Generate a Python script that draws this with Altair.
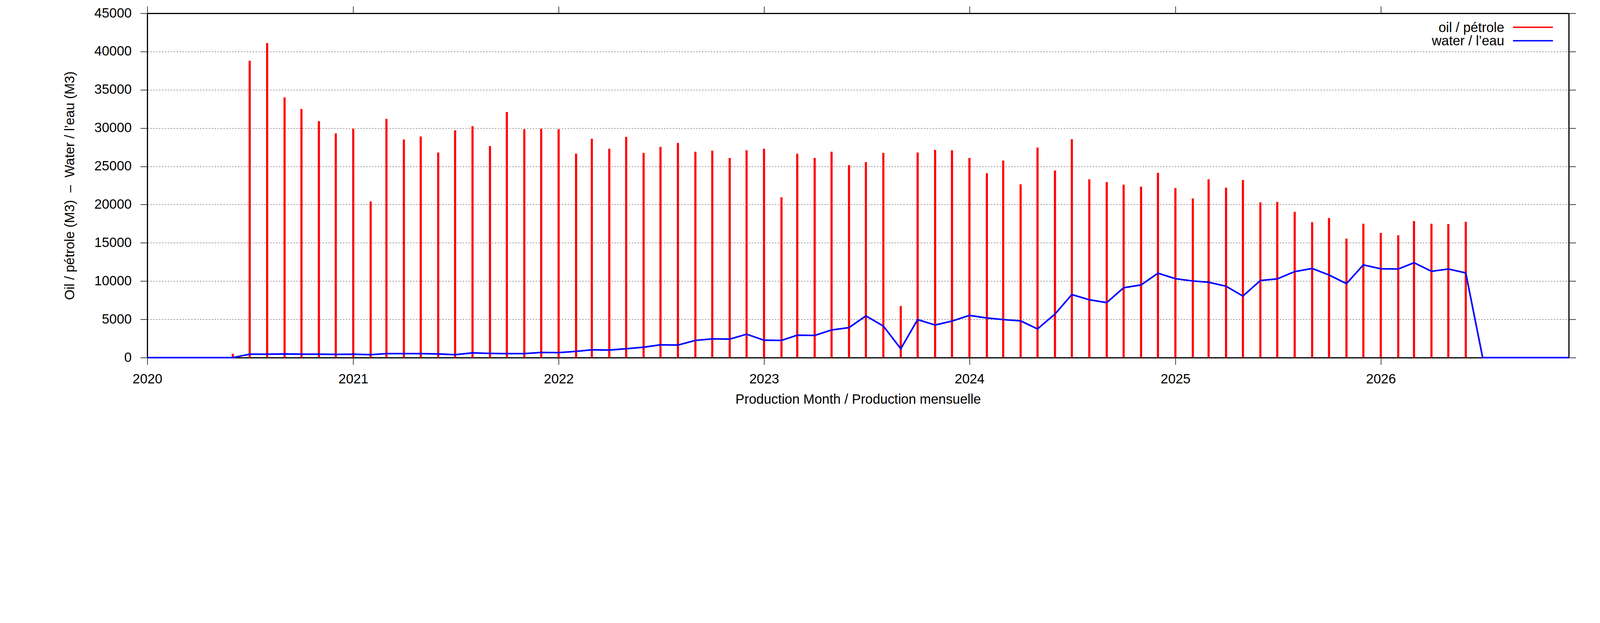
import altair as alt
import pandas as pd

# ---------------- data ----------------
months = [
    "2020-01-01", "2020-02-01", "2020-03-01", "2020-04-01", "2020-05-01", "2020-06-01",
    "2020-07-01", "2020-08-01", "2020-09-01", "2020-10-01", "2020-11-01", "2020-12-01",
    "2021-01-01", "2021-02-01", "2021-03-01", "2021-04-01", "2021-05-01", "2021-06-01",
    "2021-07-01", "2021-08-01", "2021-09-01", "2021-10-01", "2021-11-01", "2021-12-01",
    "2022-01-01", "2022-02-01", "2022-03-01", "2022-04-01", "2022-05-01", "2022-06-01",
    "2022-07-01", "2022-08-01", "2022-09-01", "2022-10-01", "2022-11-01", "2022-12-01",
    "2023-01-01", "2023-02-01", "2023-03-01", "2023-04-01", "2023-05-01", "2023-06-01",
    "2023-07-01", "2023-08-01", "2023-09-01", "2023-10-01", "2023-11-01", "2023-12-01",
    "2024-01-01", "2024-02-01", "2024-03-01", "2024-04-01", "2024-05-01", "2024-06-01",
    "2024-07-01", "2024-08-01", "2024-09-01", "2024-10-01", "2024-11-01", "2024-12-01",
    "2025-01-01", "2025-02-01", "2025-03-01", "2025-04-01", "2025-05-01", "2025-06-01",
    "2025-07-01", "2025-08-01", "2025-09-01", "2025-10-01", "2025-11-01", "2025-12-01",
    "2026-01-01", "2026-02-01", "2026-03-01", "2026-04-01", "2026-05-01", "2026-06-01",
    "2026-07-01", "2026-08-01", "2026-09-01", "2026-10-01", "2026-11-01", "2026-12-01",
]

oil = [
    None, None, None, None, None, 500, 38800, 41100, 34000, 32500, 30900, 29300,
    29900, 20400, 31200, 28500, 28900, 26800, 29700, 30250, 27650, 32100, 29850, 29900,
    29850, 26650, 28600, 27300, 28850, 26750, 27550, 28050, 26900, 27050, 26100, 27100,
    27300, 20950, 26650, 26100, 26900, 25150, 25550, 26750, 6750, 26800, 27150, 27100,
    26100, 24100, 25750, 22650, 27450, 24450, 28550, 23300, 22950, 22600, 22350, 24150,
    22150, 20800, 23300, 22200, 23200, 20300, 20350, 19050, 17700, 18250, 15550, 17500,
    16300, 16000, 17850, 17500, 17450, 17750, None, None, None, None, None, None,
]

water = [
    0, 0, 0, 0, 0, 0, 450, 450, 480, 450, 450, 420,
    450, 380, 520, 520, 520, 480, 380, 620, 550, 520, 520, 680,
    650, 820, 1020, 990, 1160, 1360, 1670, 1640, 2250, 2450, 2420, 3060,
    2280, 2250, 2930, 2900, 3610, 3920, 5450, 4120, 1160, 4970, 4260, 4770,
    5520, 5180, 4970, 4800, 3750, 5690, 8240, 7560, 7190, 9130, 9500, 11030,
    10320, 10010, 9850, 9330, 8040, 10080, 10290, 11240, 11650, 10800, 9670, 12120,
    11610, 11580, 12400, 11280, 11580, 11070, 0, 0, 0, 0, 0, 0,
]

series_labels = ["oil / pétrole", "water / l\u2019eau"]
series_colors = ["#ff0000", "#0000ff"]
year_labels = [2020, 2021, 2022, 2023, 2024, 2025, 2026]
y_ticks = [0, 5000, 10000, 15000, 20000, 25000, 30000, 35000, 40000, 45000]
x_title = "Production Month / Production mensuelle"
y_title = "Oil / pétrole (M3) \u00a0\u2013\u00a0 Water / l\u2019eau (M3)"

# ---------------- styling (CSS px; page is shown at ~1.34 reference px per CSS px) ----------------
K = 1 / 1.3386          # reference pixel -> CSS pixel
FONT = "Liberation Sans"
FS = 46 * K
W = round(4871 * K)
H = round(1179 * K)

df_water = pd.DataFrame({"month": months, "value": water})
df_oil = pd.DataFrame({"month": months, "value": oil}).dropna()

year_ticks = [alt.DateTime(year=y, month=1, date=1, utc=True) for y in year_labels]

x_scale = alt.Scale(
    type="utc",
    domain=[alt.DateTime(year=2020, month=1, date=1, utc=True),
            alt.DateTime(year=2026, month=12, date=1, utc=True)],
    nice=False,
)
y_scale = alt.Scale(domain=[0, 45000], nice=False, zero=True)

oil_layer = alt.Chart(df_oil).mark_rule(
    color=series_colors[0], strokeWidth=7.3 * K, strokeCap="butt"
).encode(
    x=alt.X("month:T", scale=x_scale,
            axis=alt.Axis(orient="top", labels=False, title=None, grid=False,
                          values=year_ticks, tickSize=24 * K, tickWidth=2 * K,
                          tickColor="black", domain=True, domainWidth=4 * K,
                          domainColor="black")),
    y=alt.Y("value:Q", scale=y_scale,
            axis=alt.Axis(orient="right", labels=False, title=None, grid=False,
                          values=y_ticks, tickSize=24 * K, tickWidth=2 * K,
                          tickColor="black", domain=True, domainWidth=4 * K,
                          domainColor="black")),
    y2=alt.datum(0),
)

water_layer = alt.Chart(df_water).mark_line(
    color=series_colors[1], strokeWidth=5.5 * K
).encode(
    x=alt.X("month:T", scale=x_scale,
            axis=alt.Axis(orient="bottom", format="%Y", values=year_ticks,
                          grid=False, labelFont=FONT, labelFontSize=FS,
                          labelColor="black", labelPadding=28 * K, labelFlush=False,
                          labelOverlap=False, tickSize=24 * K, tickWidth=2 * K,
                          tickColor="black", domainWidth=4 * K, domainColor="black",
                          title=x_title, titleFont=FONT, titleFontSize=FS,
                          titleFontWeight="normal", titleColor="black",
                          titleX=W / 2, titleY=157 * K, titleBaseline="alphabetic")),
    y=alt.Y("value:Q", scale=y_scale,
            axis=alt.Axis(orient="left", format="d", values=y_ticks, grid=True,
                          gridDash=[5 * K, 5 * K], gridColor="#444444", gridWidth=1.5 * K,
                          labelFont=FONT, labelFontSize=FS, labelColor="black",
                          labelPadding=30 * K, labelOverlap=False, tickSize=24 * K,
                          tickWidth=2 * K, tickColor="black", domainWidth=4 * K,
                          domainColor="black",
                          title=y_title, titleFont=FONT, titleFontSize=FS,
                          titleFontWeight="normal", titleColor="black",
                          titleAngle=270, titleX=-265 * K, titleY=H / 2,
                          titleBaseline="middle")),
)

legend_layers = []
for i, (lab, col) in enumerate(zip(series_labels, series_colors)):
    ldf = pd.DataFrame({"label": [lab]})
    legend_layers.append(
        alt.Chart(ldf).mark_text(
            align="right", baseline="alphabetic", font=FONT, fontSize=FS, color="black"
        ).encode(x=alt.value(4650 * K), y=alt.value((64 + i * 46) * K), text="label:N")
    )
    legend_layers.append(
        alt.Chart(ldf).mark_rule(color=col, strokeWidth=4.7 * K).encode(
            x=alt.value(4680 * K), x2=alt.value(4817 * K), y=alt.value((48 + i * 46) * K)
        )
    )

chart = alt.layer(oil_layer, water_layer, *legend_layers).properties(
    width=W,
    height=H,
    autosize=alt.AutoSizeParams(type="none"),
    padding={"left": round(504 * K) - 8, "top": round(46 * K) - 8, "right": 40, "bottom": 240},
    background="white",
).configure_view(strokeOpacity=0)

chart.save("out.html", embed_options={"renderer": "svg", "actions": False})
